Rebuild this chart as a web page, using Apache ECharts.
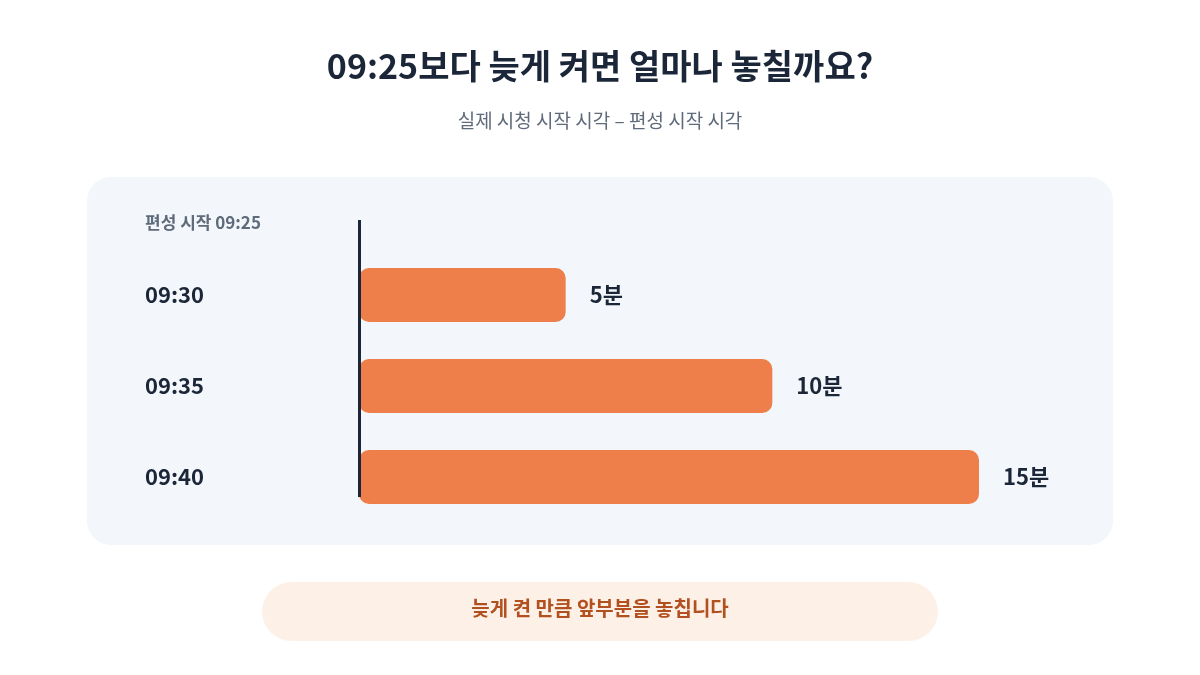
<!DOCTYPE html>
<html><head><meta charset="utf-8">
<script src="https://cdn.jsdelivr.net/npm/echarts@6/dist/echarts.min.js"></script>
<style>html,body{margin:0;padding:0;background:#fff}#c{width:1200px;height:675px}</style>
</head><body><div id="c"></div>
<script>
const categories = ['09:30', '09:35', '09:40'];
const lateMinutes = [5, 10, 15];
const unit = '분';
const F = '"Noto Sans CJK KR", "Noto Sans", sans-serif';
const chart = echarts.init(document.getElementById('c'));
chart.setOption({
  backgroundColor: '#ffffff',
  animation: false,
  title: [
    {text: '09:25보다 늦게 켜면 얼마나 놓칠까요?', left: 'center', top: 44,
     textStyle: {fontFamily: F, fontSize: 34, fontWeight: 'bold', color: '#1b2638'}},
    {text: '실제 시청 시작 시각 – 편성 시작 시각', left: 'center', top: 106,
     textStyle: {fontFamily: F, fontSize: 19, fontWeight: 'normal', color: '#5f6b7a'}}
  ],
  graphic: [
    {type: 'rect', z: -10, shape: {x: 87, y: 177, width: 1026, height: 368, r: 24}, style: {fill: '#f3f7fb'}},
    {type: 'text', left: 145, top: 214, style: {text: '편성 시작 09:25', font: 'bold 17px ' + F, fill: '#5f6b7a'}},
    {type: 'line', z: 10, shape: {x1: 359.5, y1: 220, x2: 359.5, y2: 497}, style: {stroke: '#1b2638', lineWidth: 3}},
    {type: 'rect', z: -10, shape: {x: 262, y: 582, width: 676, height: 59, r: 29.5}, style: {fill: '#fdf1e7'}},
    {type: 'text', left: 'center', top: 598, style: {text: '늦게 켠 만큼 앞부분을 놓칩니다', font: 'bold 20px ' + F, fill: '#b3501f'}}
  ],
  grid: {left: 359, top: 249.5, width: 620, height: 273},
  xAxis: {type: 'value', min: 0, max: 15, show: false},
  yAxis: {type: 'category', data: categories, inverse: true,
    axisLine: {show: false}, axisTick: {show: false}, splitLine: {show: false},
    axisLabel: {align: 'left', margin: 214, fontFamily: F, fontSize: 22, fontWeight: 'bold', color: '#1b2638'}},
  series: [{
    type: 'bar', data: lateMinutes, barWidth: 54,
    itemStyle: {color: '#ee7f4b', borderRadius: 10},
    label: {show: true, position: 'right', distance: 24, formatter: p => p.value + unit,
      fontFamily: F, fontSize: 22, fontWeight: 'bold', color: '#1b2638'}
  }]
});
</script></body></html>
